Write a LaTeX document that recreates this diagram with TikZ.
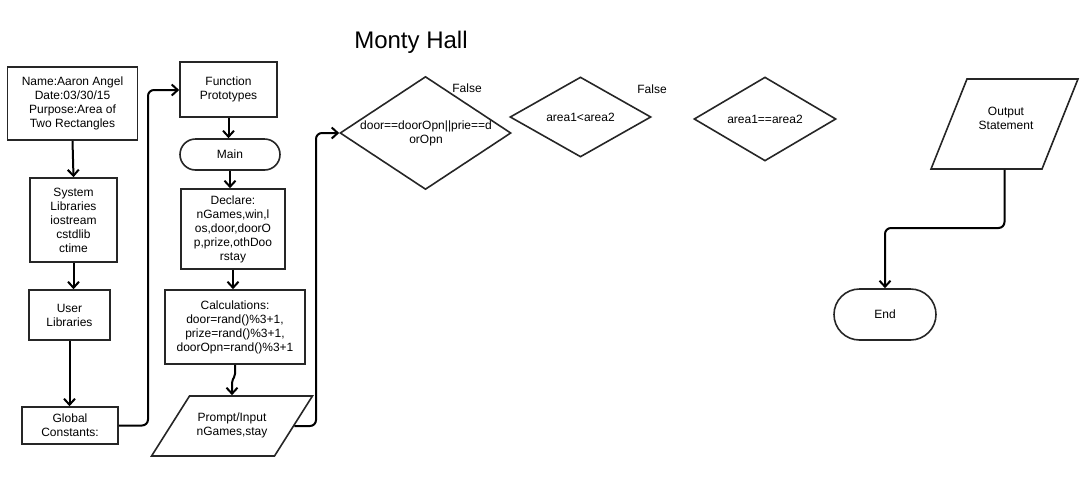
\documentclass[tikz,border=0pt]{standalone}
\usepackage{fontspec}
\setmainfont{Liberation Sans}
\usetikzlibrary{shapes.geometric,shapes.misc,arrows.meta}
\begin{document}
\begin{tikzpicture}[x=1pt,y=-1pt,
  every node/.style={font=\fontsize{12}{14}\selectfont, inner sep=0pt, align=center},
  box/.style={draw=black!85, line width=1.6pt, rectangle},
  term/.style={draw=black!85, line width=1.6pt, rounded rectangle},
  dec/.style={draw=black!85, line width=1.6pt, diamond},
  io/.style={draw=black!85, line width=1.6pt, trapezium},
  conn/.style={draw=black, line width=2pt, rounded corners=6pt, -{Straight Barb[length=6pt,width=11pt]}},
  lbl/.style={font=\fontsize{12}{14}\selectfont}
]
\useasboundingbox (0,0) rectangle (1085,488);
\node[font=\fontsize{24}{28}\selectfont] (title) at (411,42) {Monty Hall};

\node[box, minimum width=130, minimum height=73] (hdr) at (72.5,103.5) {Name:Aaron Angel\\Date:03/30/15\\Purpose:Area of\\Two Rectangles};
\node[box, minimum width=87, minimum height=84] (sys) at (73.5,220) {System\\Libraries\\iostream\\cstdlib\\ctime};
\node[box, minimum width=81, minimum height=50] (usr) at (69.5,315) {User\\Libraries};
\node[box, minimum width=96, minimum height=37] (glob) at (70,425.5) {Global\\Constants:};

\node[box, minimum width=97, minimum height=55] (fp) at (228.5,89.5) {Function\\Prototypes};
\node[term, minimum width=100, minimum height=31] (main) at (230,154.5) {Main};
\node[box, minimum width=104, minimum height=80] (decl) at (233,229) {Declare:\\nGames,win,l\\os,door,doorO\\p,prize,othDoo\\rstay};
\node[box, minimum width=140, minimum height=74] (calc) at (235,327) {Calculations:\\door=rand()\%3+1,\\prize=rand()\%3+1,\\doorOpn=rand()\%3+1};
\node[io, trapezium left angle=57.7, trapezium right angle=122.3, inner xsep=42.5, inner ysep=30] (inp) at (232,426) {};
\node (inpt) at (232,425) {Prompt/Input\\nGames,stay};

\node[dec, minimum width=171, minimum height=113] (d1) at (425.5,133) {};
\node (d1t) at (426,133) {door==doorOpn||prie==d\\orOpn};
\node[dec, minimum width=141, minimum height=80] (d2) at (580.5,117) {area1<area2};
\node[dec, minimum width=142, minimum height=80] (d3) at (765,119) {area1==area2};
\node[lbl] (f1) at (467,88) {False};
\node[lbl] (f2) at (652,89) {False};

\node[io, trapezium left angle=68.2, trapezium right angle=111.8, inner xsep=37.5, inner ysep=45] (out) at (1004.5,124) {};
\node (outt) at (1006,118) {Output\\Statement};
\node[term, minimum width=102, minimum height=51] (end) at (885,314.5) {End};

\draw[conn] (hdr.south) -- (sys.north);
\draw[conn] (sys.south) -- (sys.south |- usr.north);
\draw[conn] (usr.south) -- (usr.south |- glob.north);
\draw[conn] (glob.east) -- (148,425.5) -- (148,90) -- (fp.west |- 0,90);
\draw[conn] (fp.south) -- (fp.south |- main.north);
\draw[conn] (main.south) -- (main.south |- decl.north);
\draw[conn] (decl.south) -- (decl.south |- calc.north);
\draw[conn, rounded corners=2pt] (calc.south) -- ++(0,11) -- ++(-3,5) -- (inp.north);
\draw[conn] (inp.east) -- (316,426) -- (316,133) -- (d1.west);
\draw[conn] (out.south) -- (1004.5,228) -- (885,228) -- (end.north);
\end{tikzpicture}
\end{document}
